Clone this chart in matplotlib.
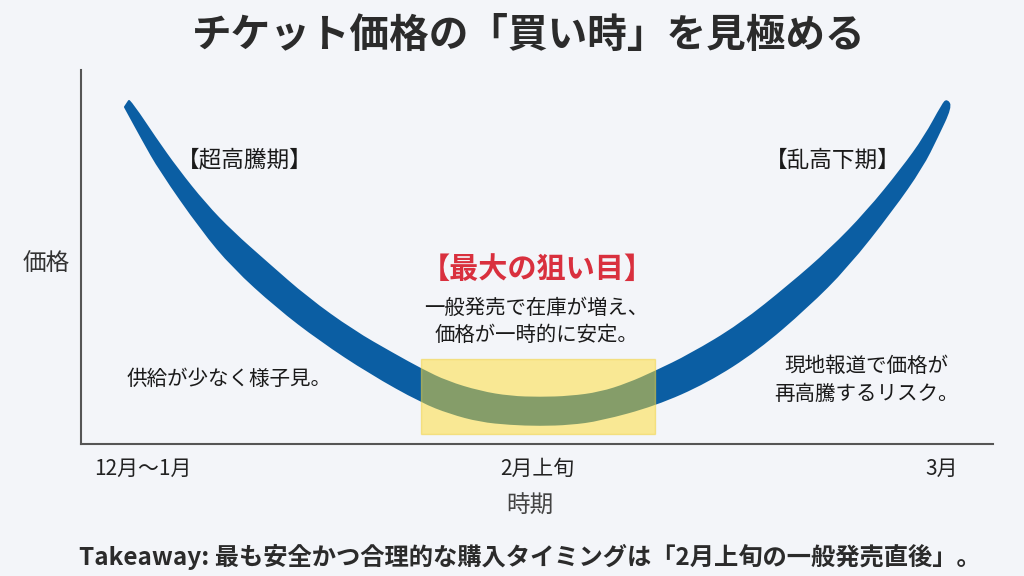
import matplotlib
matplotlib.use("Agg")
import matplotlib.pyplot as plt
from matplotlib.patches import PathPatch
from matplotlib.path import Path

BG = "#f3f5f9"
BLUE = "#0b5ea3"
plt.rcParams["font.family"] = ["Noto Sans CJK JP", "DejaVu Sans"]

# curve edges (time position, price height)
upper_x = [129, 133, 155, 177, 205, 232, 267, 307, 353, 393, 422, 447, 480, 510, 540, 570, 600, 628, 655, 690, 740, 790, 830, 867, 902, 925, 943, 947]
upper_y = [343, 339, 306, 275, 240, 212, 181, 146, 113, 90, 74, 62, 52, 47, 46, 47, 51, 60, 72, 89, 119, 159, 194, 232, 275, 307, 340, 344]
lower_x = [125, 143, 160, 202, 233, 277, 320, 370, 422, 450, 480, 510, 540, 570, 600, 655, 707, 757, 807, 847, 892, 922, 937, 951]
lower_y = [337, 304, 274, 214, 177, 137, 104, 71, 42, 31, 23, 20, 19, 20, 24, 39, 62, 94, 137, 177, 234, 277, 307, 337]

tick_pos = [143, 537, 942]
tick_labels = ["12月〜1月", "2月上旬", "3月"]


def smooth_outline(xs, ys):
    """Closed outline with quadratic segments through the read edge points."""
    pts = list(zip(xs, ys))
    verts = [pts[0]]
    codes = [Path.MOVETO]
    for i in range(1, len(pts) - 1):
        mid = ((pts[i][0] + pts[i + 1][0]) / 2, (pts[i][1] + pts[i + 1][1]) / 2)
        verts += [pts[i], mid]
        codes += [Path.CURVE3, Path.CURVE3]
    verts += [pts[-1], pts[0]]
    codes += [Path.LINETO, Path.CLOSEPOLY]
    return Path(verts, codes)


fig = plt.figure(figsize=(10.24, 5.76), dpi=100, facecolor=BG)
ax = fig.add_axes([81 / 1024, 1 - 444 / 576, 912 / 1024, 374 / 576], facecolor=BG)
ax.set_xlim(81, 993)
ax.set_ylim(0, 374)

outline = smooth_outline(upper_x + lower_x[::-1], upper_y + lower_y[::-1])
ax.add_patch(PathPatch(outline, facecolor=BLUE, edgecolor=BLUE, linewidth=1.5, joinstyle="round", zorder=2))
ax.axvspan(421, 655, ymin=10 / 374, ymax=85 / 374, facecolor="#ffdd31", alpha=0.5,
           edgecolor="#f2d23c", linewidth=1, zorder=3)

for side in ("top", "right"):
    ax.spines[side].set_visible(False)
for side in ("left", "bottom"):
    ax.spines[side].set_color("#555555")
    ax.spines[side].set_linewidth(1.5)
ax.set_yticks([])
ax.set_xticks(tick_pos, tick_labels, fontsize=15, color="#222222")
ax.tick_params(axis="x", length=0, pad=10)

fig.text(46 / 1024, 1 - 264 / 576, "価格", fontsize=17, color="#333333", ha="center", va="center")
fig.text(530 / 1024, 1 - 506 / 576, "時期", fontsize=17, color="#444444", ha="center", va="center")
fig.text(529 / 1024, 1 - 35 / 576, "チケット価格の「買い時」を見極める", fontsize=28.5, fontweight="bold",
         color="#2b2b2b", ha="center", va="center")
fig.text(530 / 1024, 1 - 557 / 576, "Takeaway: 最も安全かつ合理的な購入タイミングは「2月上旬の一般発売直後」。",
         fontsize=17.5, fontweight="bold", color="#2b2b2b", ha="center", va="center")

ax.text(245, 284, "【超高騰期】", fontsize=16.3, color="#1a1a1a", ha="center", va="center")
ax.text(833, 284, "【乱高下期】", fontsize=16.3, color="#1a1a1a", ha="center", va="center")
ax.text(537, 175, "【最大の狙い目】", fontsize=21, fontweight="bold", color="#d9303e", ha="center", va="center")
ax.text(536, 122, "一般発売で在庫が増え、\n価格が一時的に安定。", fontsize=14.7, color="#1a1a1a", ha="center", va="center", linespacing=1.35)
ax.text(229, 65, "供給が少なく様子見。", fontsize=14.8, color="#1a1a1a", ha="center", va="center")
ax.text(866, 64, "現地報道で価格が\n再高騰するリスク。", fontsize=14.8, color="#1a1a1a", ha="center", va="center", linespacing=1.35)

fig.savefig("out.png", dpi=100, facecolor=BG)
